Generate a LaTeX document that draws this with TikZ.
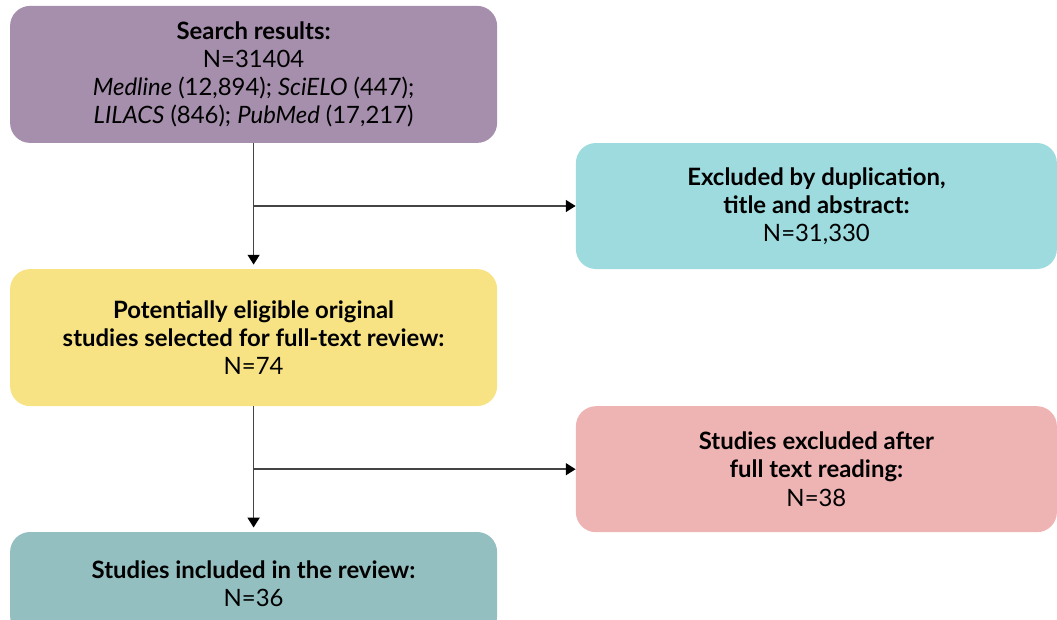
\documentclass[tikz,border=0pt]{standalone}
\usepackage{fontspec}
\setmainfont{Lato}
\usetikzlibrary{arrows.meta,positioning,calc}
\definecolor{search}{RGB}{166,143,173}
\definecolor{dupl}{RGB}{157,219,222}
\definecolor{eligible}{RGB}{247,227,132}
\definecolor{fulltext}{RGB}{238,180,179}
\definecolor{included}{RGB}{147,191,192}
\definecolor{link}{RGB}{68,68,68}

\tikzset{
  stage/.style={rounded corners=0.5cm, align=center, inner sep=0pt,
    font=\fontsize{17}{20}\selectfont},
  flow/.style={draw=link, line width=1.2pt, -{Triangle[width=8.5pt,length=7pt,black]}}
}

\begin{document}
\begin{tikzpicture}
    \useasboundingbox (0,0) rectangle (26.425,-15.475);
    \begin{scope}
    \clip (0,0) rectangle (26.425,-15.475);

    % Main stages (left column)
    \node[stage, fill=search, minimum width=12.175cm, minimum height=3.425cm] (search) at (6.34,-1.86)
        {\textbf{Search results:}\\ N=31404\\ \textit{Medline} (12,894); \textit{SciELO} (447);\\ \textit{LILACS} (846); \textit{PubMed} (17,217)};
    \node[stage, fill=eligible, minimum width=12.175cm, minimum height=3.425cm] (eligible) at (6.34,-8.44)
        {\textbf{Potentially eligible original}\\ \textbf{studies selected for full-text review:}\\ N=74};
    \node[stage, fill=included, minimum width=12.175cm, minimum height=2.6cm] (included) at (6.34,-14.6)
        {\textbf{Studies included in the review:}\\ N=36};

    % Exclusions (right column)
    \node[stage, fill=dupl, minimum width=12.025cm, minimum height=3.15cm] (dupl) at (20.41,-5.15)
        {\textbf{Excluded by duplication,}\\ \textbf{title and abstract:}\\ N=31,330};
    \node[stage, fill=fulltext, minimum width=12.025cm, minimum height=3.15cm] (fulltext) at (20.41,-11.73)
        {\textbf{Studies excluded after}\\ \textbf{full text reading:}\\ N=38};
    \end{scope}

    % Connectors
    \draw[flow, shorten >=3pt] (search.south) -- (eligible.north);
    \draw[flow] (search.south |- dupl.west) -- (dupl.west);
    \draw[flow, shorten >=3pt] (eligible.south) -- (included.north);
    \draw[flow] (eligible.south |- fulltext.west) -- (fulltext.west);
\end{tikzpicture}
\end{document}
